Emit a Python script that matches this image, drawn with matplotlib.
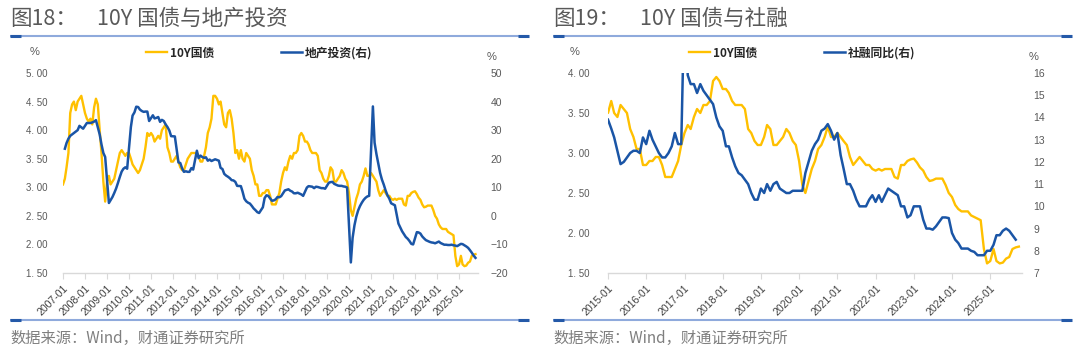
import matplotlib
matplotlib.use('Agg')
import matplotlib.pyplot as plt
import pandas as pd
from matplotlib.lines import Line2D
from matplotlib.ticker import FuncFormatter, FixedLocator
import matplotlib.dates as mdates

plt.rcParams['font.family'] = ['Liberation Sans', 'Noto Sans CJK SC', 'DejaVu Sans']
CJK = ['Noto Sans CJK SC', 'DejaVu Sans']

# ---------------- data ----------------
title_nums = ['图18：', '图19：']
title_texts = ['10Y 国债与地产投资', '10Y 国债与社融']
legend_left = ['10Y国债', '地产投资(右)']
legend_right = ['10Y国债', '社融同比(右)']
source_text = '数据来源：Wind，财通证券研究所'

# 10Y government bond yield, monthly from 2007-01 (%)
cgb10y = [
    3.05, 3.15, 3.35, 3.6, 4.3, 4.45, 4.5, 4.35, 4.5, 4.55, 4.6, 4.45,      # 2007
    4.3, 4.2, 4.15, 4.2, 4.1, 4.4, 4.55, 4.45, 4.0, 3.6, 3.1, 2.75,         # 2008
    3.1, 3.2, 3.05, 3.1, 3.15, 3.3, 3.45, 3.6, 3.65, 3.6, 3.55, 3.6,        # 2009
    3.6, 3.5, 3.4, 3.35, 3.3, 3.25, 3.3, 3.4, 3.5, 3.7, 3.95, 3.9,          # 2010
    3.95, 3.9, 3.8, 3.85, 3.9, 3.85, 4.0, 4.05, 4.1, 3.7, 3.6, 3.45,        # 2011
    3.45, 3.5, 3.55, 3.45, 3.35, 3.3, 3.3, 3.4, 3.5, 3.55, 3.6, 3.6,        # 2012
    3.6, 3.6, 3.55, 3.45, 3.45, 3.55, 3.7, 3.95, 4.05, 4.2, 4.6, 4.6,       # 2013
    4.55, 4.45, 4.5, 4.3, 4.1, 4.05, 4.3, 4.35, 4.2, 3.95, 3.6, 3.65,       # 2014
    3.5, 3.65, 3.5, 3.45, 3.6, 3.55, 3.5, 3.3, 3.2, 3.05, 3.05, 2.85,       # 2015
    2.85, 2.9, 2.9, 2.95, 2.95, 2.85, 2.7, 2.7, 2.7, 2.8, 2.9, 3.1,         # 2016
    3.25, 3.35, 3.3, 3.45, 3.55, 3.5, 3.6, 3.6, 3.65, 3.9, 3.95, 3.9,       # 2017
    3.8, 3.8, 3.75, 3.65, 3.6, 3.6, 3.6, 3.55, 3.3, 3.25, 3.15, 3.1,        # 2018
    3.1, 3.2, 3.35, 3.3, 3.1, 3.1, 3.15, 3.2, 3.3, 3.25, 3.15, 3.1,         # 2019
    2.9, 2.6, 2.5, 2.65, 2.8, 2.9, 3.05, 3.1, 3.2, 3.33, 3.2, 3.2,          # 2020
    3.25, 3.2, 3.15, 3.1, 2.95, 2.85, 2.9, 2.95, 2.9, 2.85, 2.85, 2.8,      # 2021
    2.78, 2.8, 2.78, 2.8, 2.8, 2.8, 2.7, 2.68, 2.85, 2.85, 2.9, 2.92,       # 2022
    2.93, 2.88, 2.82, 2.78, 2.7, 2.65, 2.66, 2.68, 2.68, 2.68, 2.6, 2.5,    # 2023
    2.45, 2.35, 2.3, 2.27, 2.27, 2.27, 2.22, 2.2, 2.18, 2.16, 1.8, 1.62,    # 2024
    1.65, 1.8, 1.65, 1.62, 1.63, 1.68, 1.7, 1.8, 1.82, 1.83,                # 2025
]

# real-estate investment, YTD yoy (%), Feb..Dec each year from 2007-02
re_invest = [
    23.5, 25.5, 27.0, 28.0, 28.5, 29.0, 29.5, 30.0, 31.5, 31.0, 30.5,       # 2007
    32.5, 32.5, 32.5, 32.7, 33.0, 33.5, 31.0, 28.5, 25.0, 22.0, 20.6,       # 2008
    4.5, 5.5, 6.6, 8.0, 9.6, 11.5, 13.6, 15.5, 16.5, 17.0, 16.5,            # 2009
    31.1, 35.1, 36.2, 38.2, 38.1, 37.2, 36.7, 36.4, 36.5, 36.5, 33.2,       # 2010
    35.2, 34.1, 34.3, 34.6, 32.9, 33.6, 33.2, 32.0, 31.1, 29.9, 27.9,       # 2011
    27.8, 23.5, 18.7, 18.5, 16.6, 15.4, 15.6, 15.4, 15.4, 16.7, 16.2,       # 2012
    22.8, 20.2, 21.1, 20.6, 20.3, 20.5, 19.3, 19.7, 19.2, 19.5, 19.8,       # 2013
    19.3, 16.8, 16.4, 14.7, 14.1, 13.7, 13.2, 12.5, 12.4, 11.9, 10.5,       # 2014
    10.4, 8.5, 6.0, 5.1, 4.6, 4.3, 3.5, 2.6, 2.0, 1.3, 1.0,                 # 2015
    3.0, 6.2, 7.2, 7.0, 6.1, 5.3, 5.4, 5.8, 6.6, 6.5, 6.9,                  # 2016
    8.9, 9.1, 9.3, 8.8, 8.5, 7.9, 7.9, 8.1, 7.8, 7.5, 7.0,                  # 2017
    9.9, 10.4, 10.3, 10.2, 9.7, 10.2, 10.1, 9.9, 9.7, 9.7, 9.5,             # 2018
    11.6, 11.8, 11.9, 11.2, 10.9, 10.6, 10.5, 10.5, 10.3, 10.2, 9.9,        # 2019
    -16.3, -7.7, -3.3, -0.3, 1.9, 3.4, 4.6, 5.6, 6.3, 6.8, 7.0,             # 2020
    38.3, 25.6, 21.6, 18.3, 15.0, 12.7, 10.9, 8.8, 7.2, 6.0, 4.4,           # 2021
    3.7, 0.7, -2.7, -4.0, -5.4, -6.4, -7.4, -8.0, -8.8, -9.8, -10.0,        # 2022
    -5.7, -5.8, -6.2, -7.2, -7.9, -8.5, -8.8, -9.1, -9.3, -9.4, -9.6,       # 2023
    -9.0, -9.5, -9.8, -10.1, -10.1, -10.2, -10.2, -10.1, -10.3, -10.4, -10.6,  # 2024
    -9.8, -9.9, -10.3, -10.7, -11.2, -12.0, -12.9, -13.9, -14.7,            # 2025
]

# total social financing stock yoy (%), monthly from 2015-01
tsf_yoy = [
    13.9, 13.5, 13.1, 12.5, 11.9, 12.0, 12.2, 12.4, 12.5, 12.5, 12.4, 13.1,  # 2015
    12.8, 13.4, 13.0, 12.7, 12.4, 12.2, 12.2, 12.4, 12.7, 13.3, 12.8, 12.8,  # 2016
    19.5, 15.9, 15.5, 15.5, 15.1, 15.5, 15.2, 15.0, 14.8, 14.6, 14.0, 13.6,  # 2017
    13.4, 12.7, 12.7, 12.2, 11.8, 11.5, 11.4, 11.2, 11.0, 10.6, 10.3, 10.3,  # 2018
    10.8, 10.6, 11.0, 10.7, 11.0, 11.1, 10.8, 10.7, 10.6, 10.6, 10.7, 10.7,  # 2019
    10.7, 10.7, 11.5, 12.0, 12.5, 12.8, 13.0, 13.4, 13.5, 13.7, 13.4, 13.0,  # 2020
    13.3, 12.3, 11.7, 11.0, 11.0, 10.7, 10.3, 10.0, 10.0, 10.0, 10.3, 10.5,  # 2021
    10.2, 10.5, 10.2, 10.5, 10.8, 10.7, 10.6, 10.5, 10.0, 10.0, 9.5, 9.6,    # 2022
    10.0, 10.0, 10.0, 9.4, 9.0, 9.0, 8.95, 9.1, 9.3, 9.5, 9.5, 9.47,         # 2023
    8.8, 8.5, 8.35, 8.1, 8.1, 8.1, 8.0, 7.95, 7.8, 7.8, 7.8, 8.0,            # 2024
    8.0, 8.27, 8.7, 8.7, 8.9, 9.0, 8.9, 8.7, 8.5,                            # 2025
]

left_ticks_l = [1.5, 2.0, 2.5, 3.0, 3.5, 4.0, 4.5, 5.0]
right_ticks_l = [-20, -10, 0, 10, 20, 30, 40, 50]
left_ticks_r = [1.5, 2.0, 2.5, 3.0, 3.5, 4.0]
right_ticks_r = [7, 8, 9, 10, 11, 12, 13, 14, 15, 16]

cgb_dates = pd.date_range('2007-01-01', periods=len(cgb10y), freq='MS')
re_dates_all = pd.date_range('2007-01-01', '2025-12-01', freq='MS')
re_dates = re_dates_all[re_dates_all.month != 1][:len(re_invest)]
tsf_dates = pd.date_range('2015-01-01', periods=len(tsf_yoy), freq='MS')

# ---------------- styling ----------------
W, H = 1080, 356
YELLOW = '#FFC000'
BLUE = '#1A55A6'
GREY_TXT = '#595959'
LIGHT_LINE = '#8FAADC'
DARK_LINE = '#2459A8'

fig = plt.figure(figsize=(W / 100, H / 100), dpi=100)
fig.patch.set_facecolor('white')


def px_rect(x0, y0, x1, y1):
    return [x0 / W, 1 - y1 / H, (x1 - x0) / W, (y1 - y0) / H]


def sep_line(x0, x1, y):
    fig.add_artist(Line2D([x0 / W, x1 / W], [1 - y / H] * 2, transform=fig.transFigure,
                          color=LIGHT_LINE, lw=1.5, solid_capstyle='butt'))
    fig.add_artist(Line2D([x0 / W, (x0 + 11) / W], [1 - y / H] * 2, transform=fig.transFigure,
                          color=DARK_LINE, lw=2.2, solid_capstyle='butt'))
    fig.add_artist(Line2D([(x1 - 11) / W, x1 / W], [1 - y / H] * 2, transform=fig.transFigure,
                          color=DARK_LINE, lw=2.2, solid_capstyle='butt'))


def fmt_left(v, pos):
    return f'{v:.2f}'.replace('.', '. ')


def fmt_int(v, pos):
    s = f'{int(round(v))}'
    return s.replace('-', '\u2212')


def style_panel(ax, ax2, start, end, lticks, rticks, lpad, rpad):
    ax.set_xlim(start, end)
    for s in ['top', 'left', 'right']:
        ax.spines[s].set_visible(False)
    ax.spines['bottom'].set_color('#D9D9D9')
    ax.spines['bottom'].set_linewidth(1.0)
    for s in ax2.spines.values():
        s.set_visible(False)
    years = pd.date_range(start, end, freq='YS')
    ax.xaxis.set_major_locator(FixedLocator(mdates.date2num(years)))
    ax.set_xticklabels([d.strftime('%Y-%m') for d in years], rotation=45, ha='right',
                       rotation_mode='anchor', fontsize=7.6, color='#404040')
    ax.tick_params(axis='x', direction='out', length=4, width=0.8, color='#D9D9D9', pad=3)
    ax.set_yticks(lticks)
    ax.set_ylim(lticks[0], lticks[-1])
    ax.yaxis.set_major_formatter(FuncFormatter(fmt_left))
    ax.tick_params(axis='y', length=0, labelsize=7, labelcolor=GREY_TXT, pad=lpad)
    ax2.set_yticks(rticks)
    ax2.set_ylim(rticks[0], rticks[-1])
    ax2.yaxis.set_major_formatter(FuncFormatter(fmt_int))
    ax2.tick_params(axis='y', length=0, labelsize=7.5, labelcolor=GREY_TXT, pad=rpad)
    ax.patch.set_visible(False)


# ---------------- left panel ----------------
axL = fig.add_axes(px_rect(63, 73, 478, 273))
axL2 = axL.twinx()
axL.plot(cgb_dates, cgb10y, color=YELLOW, lw=1.7, label=legend_left[0])
axL2.plot(re_dates, re_invest, color=BLUE, lw=1.8, label=legend_left[1])
style_panel(axL, axL2, pd.Timestamp('2007-01-01'), pd.Timestamp('2025-11-12'),
            left_ticks_l, right_ticks_l, 11, 9)

# ---------------- right panel ----------------
axR = fig.add_axes(px_rect(608, 73, 1022, 273))
axR2 = axR.twinx()
axR.plot(cgb_dates, cgb10y, color=YELLOW, lw=1.7, label=legend_right[0])
axR2.plot(tsf_dates, tsf_yoy, color=BLUE, lw=1.8, label=legend_right[1])
style_panel(axR, axR2, pd.Timestamp('2015-01-01'), pd.Timestamp('2025-10-31'),
            left_ticks_r, right_ticks_r, 13, 8)

# ---------------- legends ----------------
leg_prop = dict(family=CJK, weight='bold', size=8.5)
for ax, ax2, x0 in [(axL, axL2, 146), (axR, axR2, 689)]:
    h1, = ax.get_lines()
    h2, = ax2.get_lines()
    leg = ax2.legend([h1, h2], [h1.get_label(), h2.get_label()], ncol=2, frameon=False,
                     loc='center left', bbox_to_anchor=(x0 / W, 1 - 53 / H),
                     bbox_transform=fig.transFigure, prop=leg_prop, handlelength=1.8,
                     handletextpad=0.25, columnspacing=5.6, borderpad=0, borderaxespad=0)
    for t in leg.get_texts():
        t.set_color('#262626')

# ---------------- texts and decorations ----------------
for x, xt, n, t in [(10, 97, title_nums[0], title_texts[0]),
                    (553, 640, title_nums[1], title_texts[1])]:
    fig.text(x / W, 1 - 19 / H, n, fontsize=15.5, color=GREY_TXT, family=CJK,
             ha='left', va='center')
    fig.text(xt / W, 1 - 19 / H, t, fontsize=15.5, color=GREY_TXT, family=CJK,
             ha='left', va='center')
for x in [10, 553]:
    fig.text(x / W, 1 - 338 / H, source_text, fontsize=11, color='#7F7F7F', family=CJK,
             ha='left', va='center')
for x, y in [(30, 52), (487, 57), (570, 52), (1029, 57)]:
    fig.text(x / W, 1 - y / H, '%', fontsize=8, color=GREY_TXT, ha='left', va='center')

sep_line(10, 529, 36)
sep_line(553, 1072, 36)
sep_line(10, 529, 320)
sep_line(553, 1072, 320)

fig.savefig('out.png', dpi=100, facecolor='white')
